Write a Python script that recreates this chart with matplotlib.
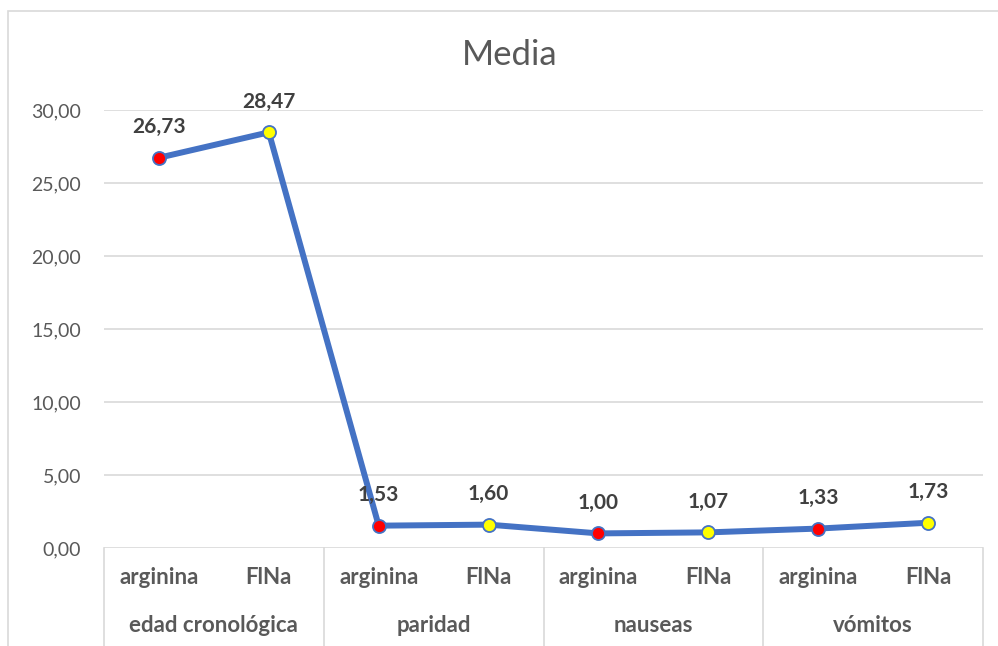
import matplotlib
matplotlib.use("Agg")
import matplotlib.pyplot as plt
from matplotlib.patches import Rectangle

plt.rcParams['font.family'] = ['Lato', 'DejaVu Sans']

groups = ["edad cronológica", "paridad", "nauseas", "vómitos"]
treatments = ["arginina", "FlNa"]
values = [26.73, 28.47, 1.53, 1.60, 1.00, 1.07, 1.33, 1.73]
value_labels = ["26,73", "28,47", "1,53", "1,60", "1,00", "1,07", "1,33", "1,73"]
marker_colors = {"arginina": "#ff0000", "FlNa": "#ffff00"}
yticks = [0, 5, 10, 15, 20, 25, 30]
ytick_labels = ["0,00", "5,00", "10,00", "15,00", "20,00", "25,00", "30,00"]

W, H = 998, 646
fig = plt.figure(figsize=(W / 100, H / 100), dpi=100)

# outer chart frame
fig.patches.append(Rectangle((8 / W, -0.05), 1.2, (H - 11) / H + 0.05,
                             transform=fig.transFigure, fill=False,
                             edgecolor="#d9d9d9", linewidth=1.2))

ax_left, ax_right = 104, 983
ax_top, ax_bottom = 110, 548
ax = fig.add_axes([ax_left / W, (H - ax_bottom) / H,
                   (ax_right - ax_left) / W, (ax_bottom - ax_top) / H])

n = len(values)
xs = [i + 0.5 for i in range(n)]
ax.set_xlim(0, n)
ax.set_ylim(0, 30)

for y in yticks:
    ax.axhline(y, color="#d9d9d9", linewidth=1.2, zorder=0)

ax.plot(xs, values, color="#4472C4", linewidth=4.3, zorder=2,
        solid_capstyle="round", solid_joinstyle="round")
for i, (x, v) in enumerate(zip(xs, values)):
    t = treatments[i % 2]
    ax.plot(x, v, marker="o", markersize=9.4, markerfacecolor=marker_colors[t],
            markeredgecolor="#4472C4", markeredgewidth=1.3, zorder=3)
    ax.annotate(value_labels[i], (x, v), xytext=(0, 22), textcoords="offset points",
                ha="center", va="center", fontsize=15, fontweight="bold",
                color="#404040", zorder=4)

for s in ax.spines.values():
    s.set_visible(False)
ax.set_xticks([])
ax.set_yticks(yticks)
ax.set_yticklabels(ytick_labels, fontsize=14, color="#595959")
ax.tick_params(axis="y", length=0, pad=16.5)

# multi-level category axis
axis_h = ax_bottom - ax_top
depth = (H - ax_bottom + 5) / axis_h
for g in range(len(groups) + 1):
    ax.plot([2 * g, 2 * g], [0, -depth], transform=ax.get_xaxis_transform(),
            color="#d9d9d9", linewidth=1.2, clip_on=False)
row1 = -(578 - ax_bottom) / axis_h
row2 = -(625 - ax_bottom) / axis_h
for i, x in enumerate(xs):
    ax.text(x, row1, treatments[i % 2], transform=ax.get_xaxis_transform(),
            ha="center", va="center", fontsize=16, fontweight="bold", color="#595959")
for g, name in enumerate(groups):
    ax.text(2 * g + 1, row2, name, transform=ax.get_xaxis_transform(),
            ha="center", va="center", fontsize=16, fontweight="bold", color="#595959")

fig.text((463 + 557) / 2 / W, 1 - 55 / H, "Media", ha="center", va="center",
         fontsize=25, color="#595959", fontweight="normal")

fig.savefig("out.png", dpi=100)
